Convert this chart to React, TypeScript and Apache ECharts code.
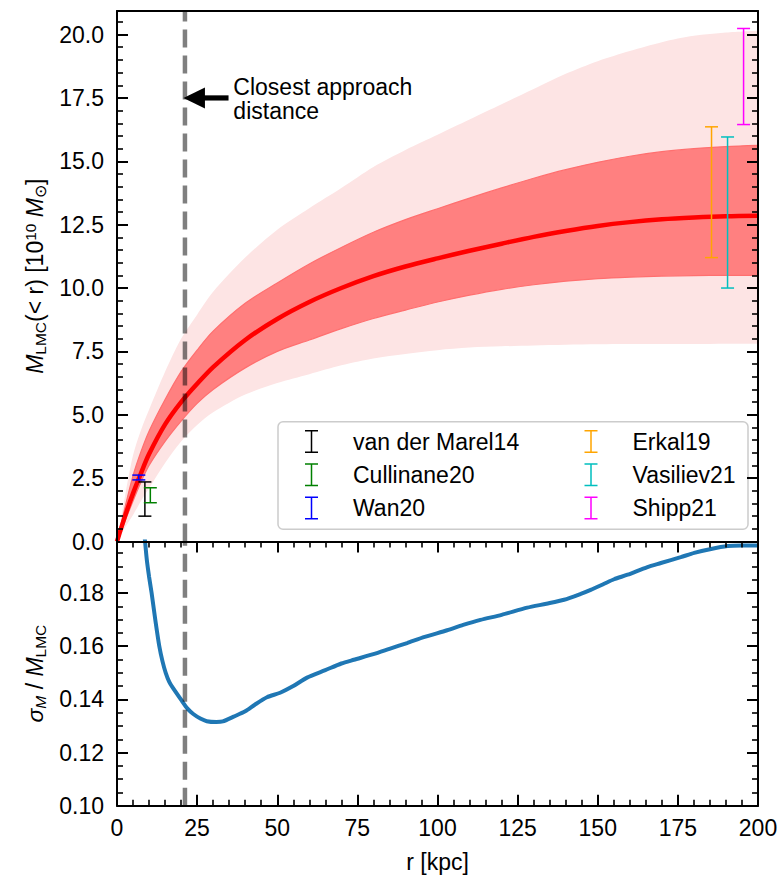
import React, { useEffect, useRef } from "react";
import * as echarts from "echarts";

// ---------- data ----------
const RADII = [0, 2.5, 5, 7.5, 10, 15, 20, 25, 30, 40, 50, 60, 70, 80, 90, 100, 110, 120, 130, 140, 150, 160, 170, 180, 190, 200];
const MASS_MEDIAN = [0, 1.0, 1.9, 2.7, 3.45, 4.62, 5.5, 6.22, 6.88, 7.95, 8.78, 9.45, 10.0, 10.47, 10.85, 11.17, 11.47, 11.75, 12.02, 12.25, 12.45, 12.6, 12.71, 12.78, 12.83, 12.85];
const MASS_1SIG_HIGH = [0, 1.35, 2.6, 3.55, 4.35, 5.6, 6.7, 7.55, 8.3, 9.4, 10.2, 10.95, 11.6, 12.2, 12.7, 13.13, 13.55, 13.95, 14.33, 14.67, 14.96, 15.2, 15.38, 15.5, 15.58, 15.63];
const MASS_1SIG_LOW = [0, 0.8, 1.6, 2.35, 3.0, 3.95, 4.75, 5.45, 6.0, 6.85, 7.5, 7.95, 8.4, 8.8, 9.13, 9.45, 9.72, 9.95, 10.13, 10.27, 10.37, 10.43, 10.47, 10.49, 10.5, 10.5];
const MASS_2SIG_HIGH = [0, 1.8, 3.4, 4.4, 5.2, 6.7, 8.0, 8.95, 9.85, 11.2, 12.3, 13.15, 13.95, 14.78, 15.45, 16.05, 16.65, 17.25, 17.85, 18.45, 18.95, 19.35, 19.7, 19.95, 20.08, 20.15];
const MASS_2SIG_LOW = [0, 0.55, 1.05, 1.6, 2.1, 3.1, 3.95, 4.6, 5.1, 5.8, 6.25, 6.6, 6.95, 7.22, 7.4, 7.55, 7.65, 7.7, 7.73, 7.76, 7.78, 7.79, 7.79, 7.79, 7.8, 7.8];

const MEAS_NAMES = ["van der Marel14", "Cullinane20", "Wan20", "Erkal19", "Vasiliev21", "Shipp21"];
const MEAS_R = [8.7, 10.4, 6.8, 185.5, 190.5, 195.5];
const MEAS_LOW = [1.0, 1.53, 2.43, 11.2, 10.0, 16.45];
const MEAS_HIGH = [2.35, 2.12, 2.62, 16.36, 15.96, 20.24];
const MEAS_COLORS = ["#000000", "#008000", "#0000ff", "#ffa500", "#00bfbf", "#ff00ff"];

const SIGMA_R = [8.0, 8.75, 9.3, 10, 10.8, 12, 13.2, 14.2, 15.2, 16.3, 17.5, 20.2, 22, 23.8, 26, 28, 31, 33, 36.4, 40, 43, 46.8, 50.9, 55, 59.3, 65, 70, 73.9, 80, 85, 90.5, 96, 103, 108, 113.4, 120, 128, 134, 139.5, 144.7, 147.8, 152, 155.1, 159.3, 165.5, 169.7, 175.9, 180.1, 185, 190.5, 195, 200];
const SIGMA_FRAC = [0.21, 0.1995, 0.1925, 0.1862, 0.18, 0.1695, 0.16, 0.1543, 0.15, 0.1466, 0.1442, 0.1395, 0.1365, 0.1345, 0.1328, 0.1318, 0.1315, 0.1317, 0.1335, 0.1355, 0.138, 0.1408, 0.1425, 0.145, 0.1482, 0.151, 0.1535, 0.1549, 0.157, 0.159, 0.1612, 0.1635, 0.166, 0.168, 0.1699, 0.1718, 0.1745, 0.176, 0.1775, 0.1797, 0.1812, 0.1835, 0.1852, 0.1869, 0.1898, 0.1913, 0.1935, 0.1951, 0.1965, 0.1977, 0.1979, 0.1979];

const CLOSEST_APPROACH_R = 21.2;
const ARROW_Y = 17.5;
const ARROW_TAIL_R = 34.8;
const ANNOT_TEXT_R = 36.3;
const ANNOT_TEXT = "Closest approach\ndistance";

const X_MIN = 0, X_MAX = 200, X_INTERVAL = 25, X_MINOR = 5;
const TOP_Y_MIN = 0, TOP_Y_MAX = 20.93, TOP_Y_INTERVAL = 2.5, TOP_Y_MINOR = 0.5;
const BOT_Y_MIN = 0.1, BOT_Y_MAX = 0.1994, BOT_Y_INTERVAL = 0.02, BOT_Y_MINOR = 0.005;

// ---------- style ----------
const FONT = '"Liberation Sans", Arial, Helvetica, sans-serif';
const FS = 23;
const ERRBAR_ICON = "path://M0,0H13V1.5H7.25V21.5H13V23H0V21.5H5.75V1.5H0Z";
const LIGHT = "#fde4e4";
const DARK = "#ff8080";

const zip = (a: number[], b: number[]) => a.map((v, i) => [v, b[i]]);

function isMultiple(v: number, step: number) {
  const k = v / step;
  return Math.abs(k - Math.round(k)) < 1e-6;
}

function xAxisDef(grid: number, position: string, opts: { ticks: boolean; labels: boolean; name?: string }) {
  return {
    type: "value",
    gridIndex: grid,
    position,
    min: X_MIN,
    max: X_MAX,
    interval: X_INTERVAL,
    z: 10,
    axisLine: { show: true, onZero: false, lineStyle: { color: "#000", width: 2 } },
    axisTick: { show: opts.ticks, inside: true, length: 11, lineStyle: { color: "#000", width: 2 } },
    minorTick: { show: opts.ticks, splitNumber: X_INTERVAL / X_MINOR, length: 6, lineStyle: { color: "#000", width: 1.6 } },
    axisLabel: { show: opts.labels, margin: 11, fontSize: FS, color: "#000", fontFamily: FONT },
    splitLine: { show: false },
    name: opts.name,
    nameLocation: "middle",
    nameGap: 45,
    nameTextStyle: { fontSize: FS, color: "#000", fontFamily: FONT },
  };
}

function yAxisDef(
  grid: number,
  position: string,
  min: number,
  max: number,
  interval: number,
  major: boolean,
  labels: boolean,
  decimals: number,
  name?: any
) {
  return {
    type: "value",
    gridIndex: grid,
    position,
    min,
    max,
    interval,
    z: 10,
    axisLine: { show: major, onZero: false, lineStyle: { color: "#000", width: 2 } },
    axisTick: { show: true, inside: true, length: major ? 11 : 6, lineStyle: { color: "#000", width: major ? 2 : 1.6 } },
    axisLabel: {
      show: labels,
      margin: 13,
      fontSize: FS,
      color: "#000",
      fontFamily: FONT,
      showMaxLabel: false,
      formatter: (v: number) => (isMultiple(v, interval) ? v.toFixed(decimals) : ""),
    },
    splitLine: { show: false },
    ...(name || {}),
  };
}

function areaLine(values: number[], fill: string, edge?: string) {
  return {
    type: "line",
    xAxisIndex: 0,
    yAxisIndex: 0,
    symbol: "none",
    smooth: 0.3,
    silent: true,
    z: 1,
    data: zip(RADII, values),
    lineStyle: edge ? { width: 1.2, color: edge } : { width: 0, opacity: 0 },
    areaStyle: { color: fill, opacity: 1, origin: "start" },
  };
}

function buildOption(): any {
  const richBase = {
    n: { fontSize: FS, fontFamily: FONT, color: "#000" },
    i: { fontSize: FS, fontFamily: FONT, fontStyle: "italic", color: "#000" },
    s: { fontSize: 15.5, fontFamily: FONT, color: "#000", padding: [10, 0, 0, 0] },
    si: { fontSize: 15.5, fontFamily: FONT, fontStyle: "italic", color: "#000", padding: [10, 0, 0, 0] },
    p: { fontSize: 15.5, fontFamily: FONT, color: "#000", padding: [0, 0, 10, 0] },
  };
  const topName = {
    name: "{i|M}{s|LMC}{n|(< r) [10}{p|10}{i| M}{s|⊙}{n|]}",
    nameLocation: "middle",
    nameRotate: 90,
    nameGap: 68,
    nameTextStyle: { rich: richBase, fontSize: FS, fontFamily: FONT, color: "#000" },
  };
  const botName = {
    name: "{i|σ}{si|M}{n| / }{i|M}{s|LMC}",
    nameLocation: "middle",
    nameRotate: 90,
    nameGap: 68,
    nameTextStyle: { rich: richBase, fontSize: FS, fontFamily: FONT, color: "#000" },
  };

  const errorSeries = MEAS_NAMES.map((name, k) => ({
    type: "custom",
    name,
    xAxisIndex: 0,
    yAxisIndex: 0,
    itemStyle: { color: MEAS_COLORS[k] },
    encode: { x: 0, y: [1, 2] },
    data: [[MEAS_R[k], MEAS_LOW[k], MEAS_HIGH[k]]],
    z: 4,
    renderItem: (params: any, api: any) => {
      const x = api.value(0);
      const lo = api.coord([x, api.value(1)]);
      const hi = api.coord([x, api.value(2)]);
      const st = { stroke: MEAS_COLORS[k], lineWidth: 1.5 };
      const cap = 6.5;
      return {
        type: "group",
        children: [
          { type: "line", shape: { x1: lo[0], y1: lo[1], x2: hi[0], y2: hi[1] }, style: st },
          { type: "line", shape: { x1: lo[0] - cap, y1: lo[1], x2: lo[0] + cap, y2: lo[1] }, style: st },
          { type: "line", shape: { x1: hi[0] - cap, y1: hi[1], x2: hi[0] + cap, y2: hi[1] }, style: st },
        ],
      };
    },
  }));

  const legendCommon = {
    orient: "vertical",
    top: 430,
    itemWidth: 73,
    itemHeight: 23,
    itemGap: 10.3,
    padding: 0,
    icon: ERRBAR_ICON,
    selectedMode: false,
    z: 6,
    textStyle: { fontSize: FS, color: "#000", fontFamily: FONT, lineHeight: 23 },
  };

  const dash = { width: 4.5, color: "rgba(0,0,0,0.5)", type: [18, 8] };

  return {
    animation: false,
    backgroundColor: "#fff",
    grid: [
      { left: 117, top: 11, width: 641, height: 530.5 },
      { left: 117, top: 541.5, width: 641, height: 264.2 },
    ],
    xAxis: [
      xAxisDef(0, "bottom", { ticks: false, labels: false }),
      xAxisDef(0, "top", { ticks: false, labels: false }),
      xAxisDef(1, "bottom", { ticks: true, labels: true, name: "r [kpc]" }),
      xAxisDef(1, "top", { ticks: true, labels: false }),
    ],
    yAxis: [
      yAxisDef(0, "left", TOP_Y_MIN, TOP_Y_MAX, TOP_Y_INTERVAL, true, true, 1, topName),
      yAxisDef(0, "left", TOP_Y_MIN, TOP_Y_MAX, TOP_Y_MINOR, false, false, 1),
      yAxisDef(0, "right", TOP_Y_MIN, TOP_Y_MAX, TOP_Y_INTERVAL, true, false, 1),
      yAxisDef(0, "right", TOP_Y_MIN, TOP_Y_MAX, TOP_Y_MINOR, false, false, 1),
      yAxisDef(1, "left", BOT_Y_MIN, BOT_Y_MAX, BOT_Y_INTERVAL, true, true, 2, botName),
      yAxisDef(1, "left", BOT_Y_MIN, BOT_Y_MAX, BOT_Y_MINOR, false, false, 2),
      yAxisDef(1, "right", BOT_Y_MIN, BOT_Y_MAX, BOT_Y_INTERVAL, true, false, 2),
      yAxisDef(1, "right", BOT_Y_MIN, BOT_Y_MAX, BOT_Y_MINOR, false, false, 2),
    ],
    legend: [
      { ...legendCommon, left: 305, data: MEAS_NAMES.slice(0, 3) },
      { ...legendCommon, left: 584.5, data: MEAS_NAMES.slice(3) },
    ],
    series: [
      // layered fills: 2-sigma high (light), 1-sigma high (dark), 1-sigma low (light), 2-sigma low (white)
      areaLine(MASS_2SIG_HIGH, LIGHT),
      areaLine(MASS_1SIG_HIGH, DARK, "#ff6f6f"),
      areaLine(MASS_1SIG_LOW, LIGHT, "#ff6f6f"),
      areaLine(MASS_2SIG_LOW, "#ffffff"),
      {
        type: "line", xAxisIndex: 0, yAxisIndex: 0, symbol: "none", smooth: 0.3,
        data: zip(RADII, MASS_MEDIAN), lineStyle: { width: 4.5, color: "#ff0000" }, silent: true, z: 3,
      },
      ...errorSeries,
      {
        type: "line", xAxisIndex: 0, yAxisIndex: 0, symbol: "none", silent: true, z: 5,
        data: [[CLOSEST_APPROACH_R, TOP_Y_MIN], [CLOSEST_APPROACH_R, TOP_Y_MAX]],
        lineStyle: dash,
      },
      {
        type: "line", xAxisIndex: 2, yAxisIndex: 4, symbol: "none", smooth: 0.25,
        data: zip(SIGMA_R, SIGMA_FRAC), lineStyle: { width: 4, color: "#1f77b4" }, silent: true, z: 3,
      },
      {
        type: "line", xAxisIndex: 2, yAxisIndex: 4, symbol: "none", silent: true, z: 5,
        data: [[CLOSEST_APPROACH_R, BOT_Y_MIN], [CLOSEST_APPROACH_R, BOT_Y_MAX]],
        lineStyle: dash,
      },
    ],
  };
}

export default function App() {
  const ref = useRef<HTMLDivElement>(null);
  useEffect(() => {
    const el = ref.current;
    if (!el) return;
    const chart = echarts.init(el, null, { renderer: "svg" });
    chart.setOption(buildOption());

    const tip = chart.convertToPixel({ xAxisIndex: 0, yAxisIndex: 0 }, [CLOSEST_APPROACH_R, ARROW_Y]) as number[];
    const tail = chart.convertToPixel({ xAxisIndex: 0, yAxisIndex: 0 }, [ARROW_TAIL_R, ARROW_Y]) as number[];
    const txt = chart.convertToPixel({ xAxisIndex: 0, yAxisIndex: 0 }, [ANNOT_TEXT_R, ARROW_Y]) as number[];
    const tipX = tip[0] - 1.5;
    const headLen = 21.5;
    const headHalf = 10.5;
    chart.setOption({
      graphic: [
        {
          type: "rect",
          z: 3,
          shape: { x: 278, y: 421.7, width: 470, height: 107.6, r: 5 },
          style: { fill: "rgba(255,255,255,0.85)", stroke: "#cccccc", lineWidth: 1.5 },
        },
        {
          type: "polygon",
          z: 6,
          shape: { points: [[tipX, tip[1]], [tipX + headLen, tip[1] - headHalf], [tipX + headLen, tip[1] + headHalf]] },
          style: { fill: "#000" },
        },
        {
          type: "rect",
          z: 6,
          shape: { x: tipX + headLen - 2, y: tip[1] - 2.6, width: tail[0] - tipX - headLen + 2, height: 5.2 },
          style: { fill: "#000" },
        },
        {
          type: "text",
          z: 6,
          x: txt[0],
          y: txt[1] + 1,
          style: {
            text: ANNOT_TEXT,
            fill: "#000",
            fontSize: FS,
            fontFamily: FONT,
            lineHeight: 24,
            align: "left",
            verticalAlign: "middle",
          },
        },
      ],
    });
    return () => chart.dispose();
  }, []);
  return (
    <div
      ref={ref}
      style={{ position: "absolute", left: 0, top: 0, width: 781, height: 875, background: "#fff" }}
    />
  );
}
